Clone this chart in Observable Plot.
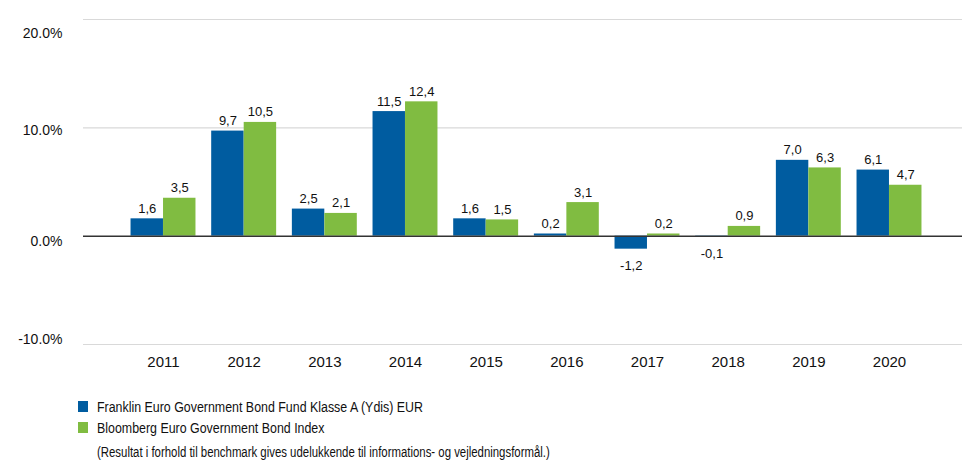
<!DOCTYPE html>
<html>
<head>
<meta charset="utf-8">
<script src="https://cdn.jsdelivr.net/npm/d3@7"></script>
<script src="https://cdn.jsdelivr.net/npm/@observablehq/plot@0.6"></script>
<style>
  html, body { margin: 0; padding: 0; background: #fff; }
  body { width: 962px; height: 466px; overflow: hidden; font-family: "Liberation Sans", Arial, sans-serif; }
  #legend { position: relative; margin-left: 78px; margin-top: 16px; font-family: "Liberation Sans", Arial, sans-serif; font-size: 15.5px; color: #111; }
  .item { display: flex; align-items: center; height: 21px; }
  .sw { width: 10px; height: 11px; margin-right: 9px; flex: none; }
  .txt { display: inline-block; white-space: nowrap; transform: scaleX(0.8); transform-origin: left center; }
  .note { margin-left: 19px; margin-top: 3px; height: 22px; line-height: 22px; }
  .note .txt { transform: scaleX(0.735); }
</style>
</head>
<body>
<div id="chart"></div>
<div id="legend"></div>
<script>
const years = [2011, 2012, 2013, 2014, 2015, 2016, 2017, 2018, 2019, 2020];
const fund = [1.6, 9.7, 2.5, 11.5, 1.6, 0.2, -1.2, -0.1, 7.0, 6.1];
const benchmark = [3.5, 10.5, 2.1, 12.4, 1.5, 3.1, 0.2, 0.9, 6.3, 4.7];
const seriesNames = ["Franklin Euro Government Bond Fund Klasse A (Ydis) EUR", "Bloomberg Euro Government Bond Index"];
const seriesColors = ["#005ca0", "#80bc41"];
const yTicks = [-10, 0, 10, 20];
const note = "(Resultat i forhold til benchmark gives udelukkende til informations- og vejledningsformål.)";

const fundRows = years.map((year, i) => ({year, series: seriesNames[0], value: fund[i]}));
const benchRows = years.map((year, i) => ({year, series: seriesNames[1], value: benchmark[i]}));
const half = 32.5;
const fmt = v => v.toFixed(1).replace(".", ",");
const labelMarks = (rows, dx) => [
  Plot.text(rows.filter(d => d.value >= 0), {x: "year", y: "value", text: d => fmt(d.value), dx, dy: -6, lineAnchor: "bottom", fontSize: 13, fill: "#111"}),
  Plot.text(rows.filter(d => d.value < 0), {x: "year", y: "value", text: d => fmt(d.value), dx, dy: 12, lineAnchor: "top", fontSize: 13, fill: "#111"})
];
// the reference's tick labels sit slightly off their gridlines
const yLabelShift = {"-10": -5, "0": 5, "10": 3, "20": 14};
const yAxes = yTicks.map(t => Plot.axisY({ticks: [t], tickSize: 0, tickPadding: 21, fontSize: 14, dy: yLabelShift[t], tickFormat: d => d.toFixed(1) + "%", label: null, fill: "#111"}));

const chart = Plot.plot({
  width: 962,
  height: 380,
  marginLeft: 83,
  marginRight: 0,
  marginTop: 19,
  marginBottom: 36,
  style: {fontFamily: "'Liberation Sans', Arial, sans-serif", background: "#fff", overflow: "visible"},
  x: {type: "band", domain: years, range: [114.8, 937.2], padding: 0.195, round: false, label: null},
  y: {domain: [-10, 20], label: null},
  color: {domain: seriesNames, range: seriesColors},
  marks: [
    Plot.ruleY(yTicks.filter(t => t !== 0), {stroke: "#d9d9d9", strokeWidth: 1.2}),
    Plot.barY(fundRows, {x: "year", y: "value", fill: "series", insetRight: half, insetLeft: 0}),
    Plot.barY(benchRows, {x: "year", y: "value", fill: "series", insetLeft: half, insetRight: 0}),
    Plot.ruleY([0], {stroke: "#333", strokeWidth: 1.5}),
    ...labelMarks(fundRows, -half / 2),
    ...labelMarks(benchRows, half / 2),
    ...yAxes,
    Plot.axisX({tickSize: 0, tickPadding: 12, fontSize: 15, tickFormat: d => String(d), label: null, fill: "#111"})
  ]
});
document.getElementById("chart").appendChild(chart);

const legend = document.getElementById("legend");
seriesNames.forEach((name, i) => {
  const row = document.createElement("div");
  row.className = "item";
  const sw = document.createElement("span");
  sw.className = "sw";
  sw.style.background = seriesColors[i];
  const t = document.createElement("span");
  t.className = "txt";
  t.textContent = name;
  row.appendChild(sw); row.appendChild(t);
  legend.appendChild(row);
});
const n = document.createElement("div");
n.className = "note";
const nt = document.createElement("span");
nt.className = "txt";
nt.textContent = note;
n.appendChild(nt);
legend.appendChild(n);
</script>
</body>
</html>
